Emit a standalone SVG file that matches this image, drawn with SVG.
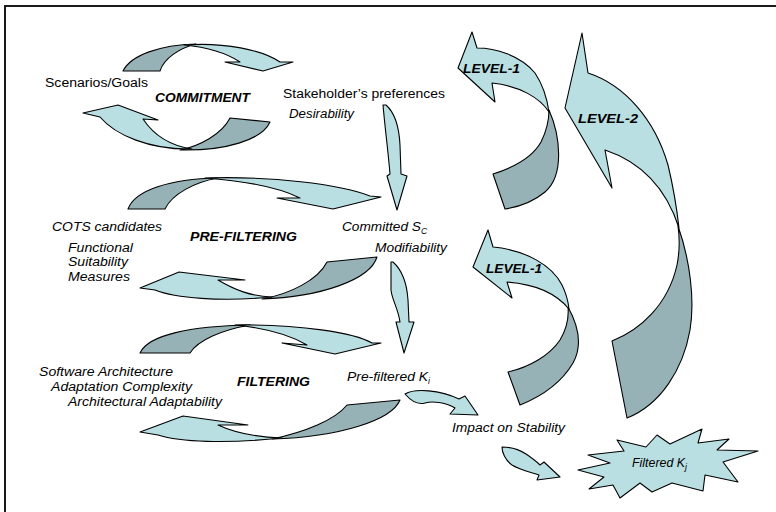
<svg xmlns="http://www.w3.org/2000/svg" width="776" height="512" viewBox="0 0 776 512">
<defs>
<style>
.lt{fill:#b9dfe2;stroke:#000;stroke-width:1.1;stroke-linejoin:round}
.dk{fill:#96b2b6;stroke:#000;stroke-width:1.1;stroke-linejoin:round}
text{font-family:"Liberation Sans",Arial,sans-serif;font-size:12.5px;fill:#000}
.i{font-style:italic}
.bi{font-style:italic;font-weight:bold}
.frame{fill:none;stroke:#1a1a1a;stroke-width:2}
</style>
</defs>
<rect width="776" height="512" fill="#fff"/>
<path class="frame" d="M5,512 V6 H776"/>

<g id="connectors">
  <g id="commit-top">
    <path class="dk" d="M123,71 C131,55 160,45 196,44 C180,48 164,58 160,71 Z"/>
    <path class="lt" d="M184,45 C225,42 262,50 280,62 L293,62 L263,71 L225,62 L240,62 C225,52 205,47 184,45 Z"/>
  </g>
  <g id="commit-bottom">
    <path class="dk" d="M270,122 C262,140 225,151 180,150 C200,146 222,134 230,118 Z"/>
    <path class="lt" d="M83,113 L118,105 L158,120 L143,119 C155,137 172,146 192,149 C150,150 115,135 100,117 Z"/>
  </g>
  <path id="down-1" class="lt" d="M383,105 L386,105 C394,112 399,125 400,145 L401,174 L407,176 L397,210 L387,176 L390,174 C388,150 385,128 383,105 Z"/>
  <g id="pre-top">
    <path class="dk" d="M128,209 C135,190 170,179 218,178 C195,182 172,194 165,209 Z"/>
    <path class="lt" d="M205,178 C270,176 340,184 370,196 L381,197 L333,209 L277,198 L300,198 C280,188 245,181 205,178 Z"/>
  </g>
  <g id="pre-bottom">
    <path class="dk" d="M377,257 C370,280 320,297 262,299 C290,294 318,280 327,262 Z"/>
    <path class="lt" d="M140,288 L179,272 L245,280 L218,280 C235,290 250,296 272,297 C220,302 175,298 155,290 Z"/>
  </g>
  <path id="down-2" class="lt" d="M391,262 L393,262 C402,270 407,285 408,300 L409,322 L414,322 L404,353 L396,322 L400,322 C398,308 392,300 391,290 Z"/>
  <g id="filt-top">
    <path class="dk" d="M140,353 C148,335 190,326 250,325 C222,330 198,340 190,353 Z"/>
    <path class="lt" d="M235,325 C300,324 355,333 372,343 L381,343 L335,354 L282,343 L307,345 C290,335 265,328 235,325 Z"/>
  </g>
  <g id="filt-bottom">
    <path class="dk" d="M400,400 C392,420 340,437 272,439 C305,432 335,420 347,405 Z"/>
    <path class="lt" d="M140,432 L183,416 L248,425 L218,425 C235,433 255,437 282,438 C225,444 180,442 158,435 Z"/>
  </g>
  <path id="to-impact" class="lt" d="M405,394 C415,388 440,390 459,399 L465,396 L478,415 L450,414 L455,408 C445,402 432,401 425,403 C418,405 412,402 405,394 Z"/>
  <path id="to-filtered" class="lt" d="M502,447 C510,447 520,450 526,454 C532,458 537,462 540,465 L544,462 L560,477 L537,480 L539,475 C530,472 520,470 512,465 C505,460 502,452 502,447 Z"/>
  <g id="level1-top">
    <path class="dk" d="M549,110 C560,135 565,175 545,192 C533,202 518,207 505,209 L493,174 C512,168 532,158 541,142 C546,132 549,122 549,110 Z"/>
    <path class="lt" d="M472,32 L477,48 C495,48 520,55 535,73 C543,85 547,98 549,112 C540,98 520,86 492,83 L495,102 L458,68 Z"/>
  </g>
  <g id="level2">
    <path class="dk" d="M678,226 C690,260 695,300 690,330 C683,370 660,405 627,418 L612,341 C640,330 668,305 677,265 C680,250 680,240 678,226 Z"/>
    <path class="lt" d="M582,33 L588,73 C625,85 655,120 668,165 C674,190 677,210 679,228 C670,200 650,165 605,150 L612,188 L565,108 Z"/>
  </g>
  <g id="level1-bottom">
    <path class="dk" d="M568,307 C578,325 583,345 573,363 C563,380 545,395 520,405 L508,372 C530,367 550,355 560,340 C566,330 569,318 568,307 Z"/>
    <path class="lt" d="M488,230 L493,247 C525,250 552,265 562,285 C566,293 568,300 569,309 C555,292 535,284 507,282 L512,298 L473,267 Z"/>
  </g>
</g>

<g id="commitment">
  <text x="45" y="87" textLength="103" lengthAdjust="spacingAndGlyphs">Scenarios/Goals</text>
  <text class="bi" x="155" y="102" textLength="95" lengthAdjust="spacingAndGlyphs">COMMITMENT</text>
  <text x="283" y="98" textLength="162" lengthAdjust="spacingAndGlyphs">Stakeholder’s preferences</text>
  <text class="i" x="289" y="118" textLength="65" lengthAdjust="spacingAndGlyphs">Desirability</text>
</g>
<g id="prefiltering">
  <text class="i" x="52" y="231" textLength="110" lengthAdjust="spacingAndGlyphs">COTS candidates</text>
  <text class="bi" x="190" y="241" textLength="107" lengthAdjust="spacingAndGlyphs">PRE-FILTERING</text>
  <text class="i" x="342" y="231"><tspan textLength="79" lengthAdjust="spacingAndGlyphs">Committed S</tspan><tspan font-size="8.5" dy="3">C</tspan></text>
  <text class="i" x="375" y="252" textLength="72" lengthAdjust="spacingAndGlyphs">Modifiability</text>
  <text class="i" x="68" y="252" textLength="65" lengthAdjust="spacingAndGlyphs">Functional</text>
  <text class="i" x="68" y="266" textLength="60" lengthAdjust="spacingAndGlyphs">Suitability</text>
  <text class="i" x="68" y="281" textLength="62" lengthAdjust="spacingAndGlyphs">Measures</text>
</g>
<g id="filtering">
  <text class="i" x="39" y="376" textLength="134" lengthAdjust="spacingAndGlyphs">Software Architecture</text>
  <text class="i" x="51" y="391" textLength="141" lengthAdjust="spacingAndGlyphs">Adaptation Complexity</text>
  <text class="i" x="68" y="406" textLength="154" lengthAdjust="spacingAndGlyphs">Architectural Adaptability</text>
  <text class="bi" x="237" y="386" textLength="73" lengthAdjust="spacingAndGlyphs">FILTERING</text>
  <text class="i" x="347" y="381"><tspan textLength="81" lengthAdjust="spacingAndGlyphs">Pre-filtered K</tspan><tspan font-size="8.5" dy="3">i</tspan></text>
</g>
<g id="impact">
  <text class="i" x="452" y="432" textLength="113" lengthAdjust="spacingAndGlyphs">Impact on Stability</text>
</g>
<g id="filtered-kj">
  <polygon class="lt" points="578,470 610,463 588,455 624,451 617,440 646,447 657,435 670,444 702,429 698,443 729,439 717,450 758,451 723,462 738,482 705,475 703,491 672,483 652,492 640,483 620,498 613,485 589,489 604,477"/>
  <text class="i" x="632" y="467"><tspan textLength="53" lengthAdjust="spacingAndGlyphs">Filtered K</tspan><tspan font-size="8.5" dy="3">j</tspan></text>
</g>
<g id="levels">
  <text class="bi" x="463" y="73" textLength="57" lengthAdjust="spacingAndGlyphs">LEVEL-1</text>
  <text class="bi" x="578" y="123" textLength="60" lengthAdjust="spacingAndGlyphs">LEVEL-2</text>
  <text class="bi" x="486" y="273" textLength="56" lengthAdjust="spacingAndGlyphs">LEVEL-1</text>
</g>
</svg>
